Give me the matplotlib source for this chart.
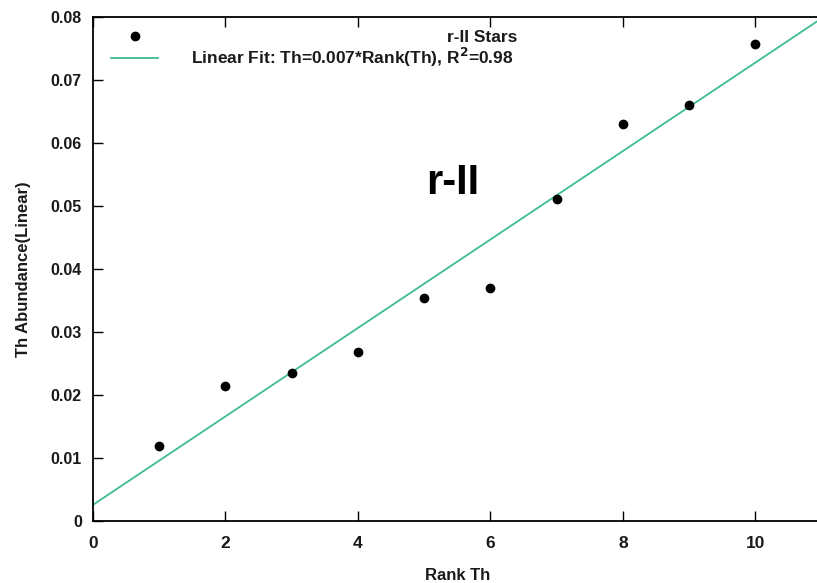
import matplotlib.pyplot as plt
import numpy as np

# Data
rank = [1, 2, 3, 4, 5, 6, 7, 8, 9, 10]
th_abundance = [0.0119, 0.0214, 0.0235, 0.0268, 0.0354, 0.0370, 0.0511, 0.0630, 0.0660, 0.0757]
x_ticks = [0, 2, 4, 6, 8, 10]
y_ticks = [0, 0.01, 0.02, 0.03, 0.04, 0.05, 0.06, 0.07, 0.08]
y_tick_labels = ["0", "0.01", "0.02", "0.03", "0.04", "0.05", "0.06", "0.07", "0.08"]

fit_color = "#3dbb96"
text_color = "#1a1a1a"

plt.rcParams['font.family'] = ['Liberation Sans', 'DejaVu Sans']
plt.rcParams['font.weight'] = 'bold'

W, H = 817, 583
fig = plt.figure(figsize=(W / 100, H / 100), dpi=100)
ax = fig.add_axes([93 / W, 1 - 521 / H, (821.7 - 93) / W, (521 - 17) / H])

# linear fit from the data
slope, intercept = np.polyfit(rank, th_abundance, 1)
xs = np.array([0, 11])
ax.plot(xs, slope * xs + intercept, color=fit_color, lw=1.3, zorder=2)
ax.plot(rank, th_abundance, 'o', color='black', ms=6, zorder=3)

ax.set_xlim(0, 11)
ax.set_ylim(0, 0.08)
ax.set_xticks(x_ticks)
ax.set_yticks(y_ticks)
ax.set_yticklabels(y_tick_labels)
ax.tick_params(direction='in', length=7, width=1, top=True, right=False,
               labelsize=12.5, colors='black', labelcolor=text_color)
ax.tick_params(axis='y', pad=8, labelsize=11.5)
ax.tick_params(axis='x', pad=11)
for s in ax.spines.values():
    s.set_linewidth(1.3)
ax.spines['right'].set_visible(False)

ax.set_xlabel("Rank Th", fontsize=12, fontweight='bold', color=text_color, labelpad=12)
ax.set_ylabel("Th Abundance(Linear)", fontsize=12, fontweight='bold', color=text_color, labelpad=14)

ax.text(5.43, 0.0537, "r-II", fontsize=30, fontweight='bold', ha='center', va='center',
        color='black')

# gnuplot-style key: sample on the left, text right-justified
tf = fig.transFigure
fig.lines.append(plt.Line2D([135 / W], [1 - 36 / H], marker='o', color='black', ms=6,
                            transform=tf, linestyle='none'))
fig.lines.append(plt.Line2D([111 / W, 158 / W], [1 - 58 / H, 1 - 58 / H], color=fit_color,
                            lw=1.3, transform=tf))
fig.text(517 / W, 1 - 38 / H, "r-II Stars", ha='right', va='center', fontsize=12.5,
         fontweight='bold', color=text_color)
fig.text(513 / W, 1 - 57 / H, r"Linear Fit: Th=0.007*Rank(Th), R$^\mathbf{2}$=0.98", ha='right',
         va='center', fontsize=12.5, fontweight='bold', color=text_color)

fig.savefig("out.png", dpi=100)
